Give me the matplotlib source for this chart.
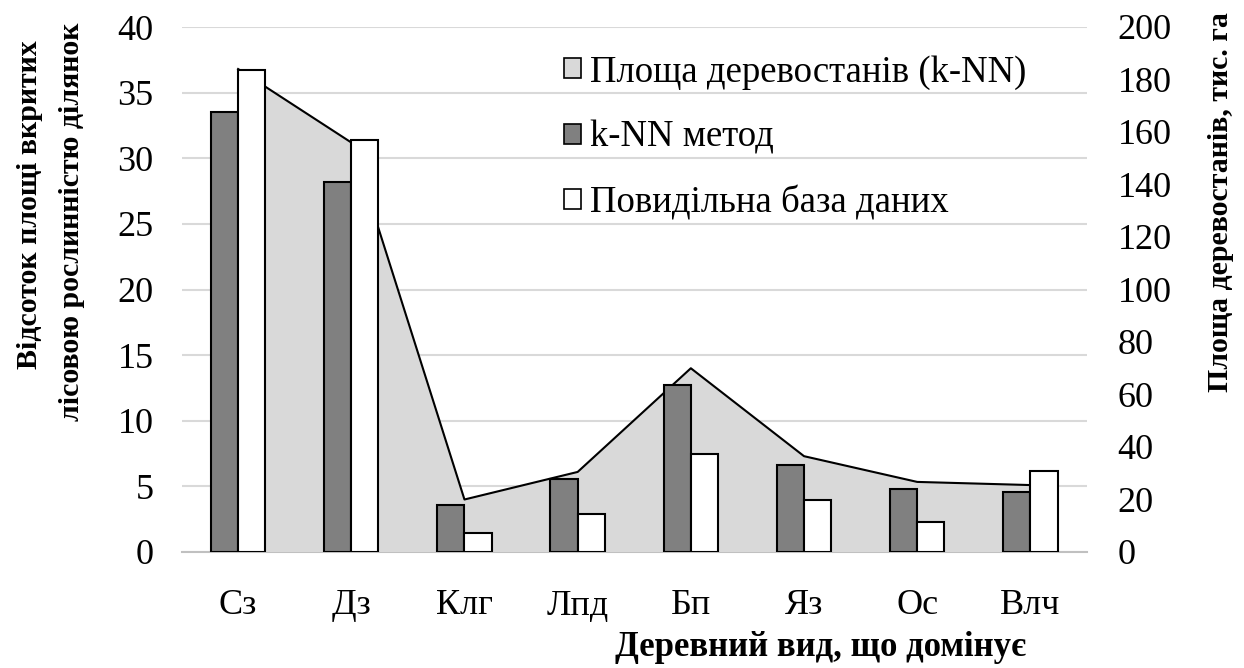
import matplotlib
matplotlib.use("Agg")
import matplotlib.pyplot as plt
from matplotlib.patches import Patch
import numpy as np

categories = ["Сз", "Дз", "Клг", "Лпд", "Бп", "Яз", "Ос", "Влч"]
knn_pct = [33.5, 28.2, 3.6, 5.6, 12.7, 6.6, 4.8, 4.6]
db_pct = [36.7, 31.4, 1.45, 2.9, 7.5, 4.0, 2.3, 6.2]
area_knn = [184, 156, 20, 30.5, 70, 36.5, 26.7, 25.5]

left_ticks = [0, 5, 10, 15, 20, 25, 30, 35, 40]
right_ticks = [0, 20, 40, 60, 80, 100, 120, 140, 160, 180, 200]

plt.rcParams['font.family'] = ['Liberation Serif', 'DejaVu Serif']

W, H = 1244, 668
fig = plt.figure(figsize=(W / 100, H / 100), dpi=100)
L, R, T, B = 181.5, 1087, 27, 552
ax = fig.add_axes([L / W, 1 - B / H, (R - L) / W, (B - T) / H])
ax2 = ax.twinx()
ax3 = ax.twinx()

x = np.arange(len(categories))
xlim = (-0.5, len(categories) - 0.5)

# base axes: grid + left ticks
ax.set_xlim(*xlim)
ax.set_ylim(0, 40)
ax.set_yticks(left_ticks)
ax.set_xticks(x)
ax.set_xticklabels(categories, fontsize=26)
ax.tick_params(axis='y', length=0, pad=20, labelsize=26)
ax.tick_params(axis='x', length=0, pad=27)
ax.grid(axis='y', color='#d9d9d9', linewidth=1.5)
ax.set_axisbelow(True)
for s in ['top', 'left', 'right']:
    ax.spines[s].set_visible(False)
ax.spines['bottom'].set_color('#c0c0c0')
ax.spines['bottom'].set_linewidth(1.5)

# area on secondary axis
ax2.set_xlim(*xlim)
ax2.set_ylim(0, 200)
ax2.set_yticks(right_ticks)
ax2.tick_params(axis='y', length=0, pad=22, labelsize=26)
ax2.fill_between(x, area_knn, 0, facecolor='#d9d9d9', edgecolor='none', zorder=1)
ax2.plot(x, area_knn, color='black', linewidth=1.5, zorder=2)
for s in ax2.spines.values():
    s.set_visible(False)

# bars
ax3.set_xlim(*xlim)
ax3.set_ylim(0, 40)
ax3.axis('off')
bw = 0.24
ax3.bar(x - bw / 2, knn_pct, width=bw, color='#808080', edgecolor='black', linewidth=1.5)
ax3.bar(x + bw / 2, db_pct, width=bw, color='white', edgecolor='black', linewidth=1.5)

handles = [Patch(facecolor='#d9d9d9', edgecolor='black', linewidth=1.2),
           Patch(facecolor='#808080', edgecolor='black', linewidth=1.2),
           Patch(facecolor='white', edgecolor='black', linewidth=1.2)]
labels = ["Площа деревостанів (k-NN)", "k-NN метод", "Повидільна база даних"]
leg = fig.legend(handles, labels, loc='upper left', bbox_to_anchor=(564 / W, 1 - 55 / H),
                 frameon=False, fontsize=26.5, handlelength=0.46, handleheight=0.46,
                 handletextpad=0.25, labelspacing=0.83, borderaxespad=0, borderpad=0)

fig.text(30 / W, 1 - 205 / H, "Відсоток площі вкритих", rotation=90, fontsize=21.5,
         fontweight='bold', ha='center', va='center')
fig.text(72 / W, 1 - 222 / H, "лісовою рослинністю ділянок", rotation=90, fontsize=21.5,
         fontweight='bold', ha='center', va='center')
fig.text(1221 / W, 1 - 202 / H, "Площа деревостанів, тис. га", rotation=90, fontsize=21.5,
         fontweight='bold', ha='center', va='center')
fig.text(821 / W, 1 - 647 / H, "Деревний вид, що домінує", fontsize=25,
         fontweight='bold', ha='center', va='center')

fig.savefig("out.png", dpi=100)
